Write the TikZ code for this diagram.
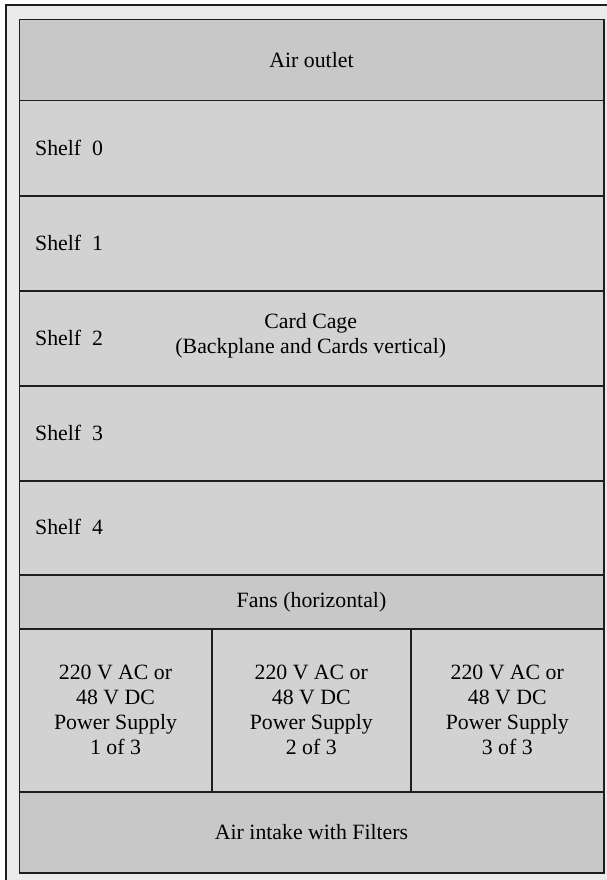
\documentclass[tikz,border=0pt]{standalone}
\usepackage{fontspec}
\setmainfont{Liberation Serif}
\definecolor{bandD}{HTML}{C8C8C8}
\definecolor{bandL}{HTML}{D2D2D2}
\definecolor{frameC}{HTML}{EBEBEB}
\definecolor{lineC}{HTML}{1E1E1E}
\tikzset{
  frame/.style={draw=lineC, line width=1.5pt, fill=frameC},
  band/.style={draw=lineC, line width=1.5pt, inner sep=0pt, anchor=north west, minimum width=584.5pt},
  cell/.style={draw=lineC, line width=1.5pt, inner sep=0pt, anchor=north west, fill=bandL, minimum height=163pt},
  txt/.style={font=\fontsize{21.8}{25}\selectfont, text=black, align=center, inner sep=0pt},
  shelflbl/.style={font=\fontsize{21.8}{25}\selectfont, text=black, anchor=west, inner sep=0pt}
}
\begin{document}
\begin{tikzpicture}[x=1pt,y=-1pt]
\clip (0,0) rectangle (607,880);
\fill[white] (0,0) rectangle (607,880);
\draw[frame] (6,5) rectangle (650,930);
% bands
\node[band, fill=bandD, minimum height=81pt] (outlet) at (18.5,19) {};
\node[band, fill=bandL, minimum height=95pt] (s0) at (18.5,100) {};
\node[band, fill=bandL, minimum height=95pt] (s1) at (18.5,195) {};
\node[band, fill=bandL, minimum height=95pt] (s2) at (18.5,290) {};
\node[band, fill=bandL, minimum height=95pt] (s3) at (18.5,385) {};
\node[band, fill=bandL, minimum height=94pt] (s4) at (18.5,480) {};
\node[band, fill=bandD, minimum height=54pt] (fans) at (18.5,574) {};
\node[cell, minimum width=192.5pt] (p1) at (18.5,628) {};
\node[cell, minimum width=199pt] (p2) at (211,628) {};
\node[cell, minimum width=193pt] (p3) at (410,628) {};
\node[band, fill=bandD, minimum height=81pt] (intake) at (18.5,791) {};
% texts
\node[txt] (toutlet) at (outlet.center) {Air outlet};
\node[shelflbl] (t0) at (35,147.5) {Shelf\ \ 0};
\node[shelflbl] (t1) at (35,242.5) {Shelf\ \ 1};
\node[shelflbl] (t2) at (35,337.5) {Shelf\ \ 2};
\node[shelflbl] (t3) at (35,432.5) {Shelf\ \ 3};
\node[shelflbl] (t4) at (35,527) {Shelf\ \ 4};
\node[txt] (tcage) at (310.75,335.5) {Card Cage\\(Backplane and Cards vertical)};
\node[txt] (tfans) at (fans.center) {Fans (horizontal)};
\node[txt] (tp1) at (p1.center) {220 V AC or\\48 V DC\\Power Supply\\1 of 3};
\node[txt] (tp2) at (p2.center) {220 V AC or\\48 V DC\\Power Supply\\2 of 3};
\node[txt] (tp3) at (p3.center) {220 V AC or\\48 V DC\\Power Supply\\3 of 3};
\node[txt] (tintake) at (intake.center) {Air intake with Filters};
\end{tikzpicture}
\end{document}
